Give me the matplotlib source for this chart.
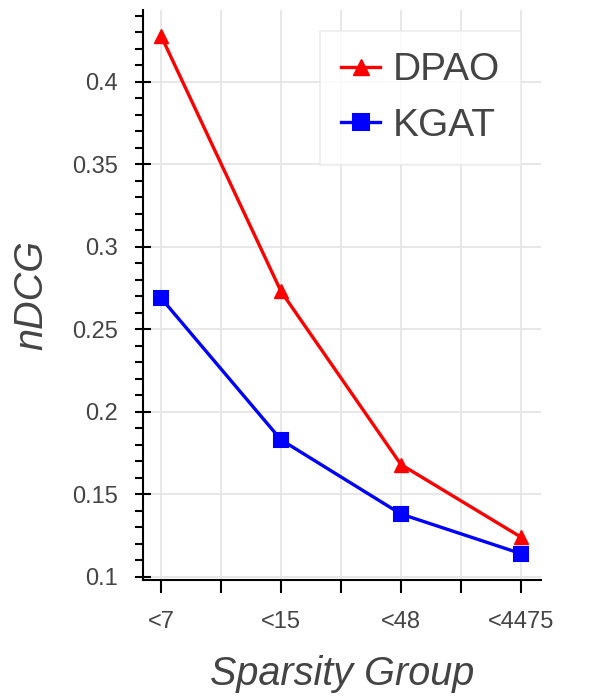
import numpy as np
import matplotlib.pyplot as plt
from matplotlib.ticker import MultipleLocator, FixedLocator

plt.rcParams['font.family'] = ['Liberation Sans', 'DejaVu Sans']

# Data
groups = ["<7", "<15", "<48", "<4475"]
dpao = [0.428, 0.273, 0.168, 0.124]
kgat = [0.269, 0.183, 0.138, 0.114]

x = np.arange(len(groups))
text_color = "#444444"

fig = plt.figure(figsize=(6, 7), dpi=100)
ax = fig.add_axes([143 / 600, 1 - 580 / 700, (541 - 143) / 600, (580 - 10) / 700])

ax.plot(x, dpao, color="red", lw=2.4, marker="^", markersize=9.5, label="DPAO", zorder=3)
ax.plot(x, kgat, color="blue", lw=2.4, marker="s", markersize=9.5, label="KGAT", zorder=3,
        markeredgewidth=1.5, markeredgecolor="blue")

ax.set_xlim(-0.15, 3.167)
ax.set_ylim(0.098, 0.4436)

ax.xaxis.set_major_locator(FixedLocator(x))
ax.xaxis.set_minor_locator(FixedLocator([0.5, 1.5, 2.5]))
ax.set_xticklabels(groups)
ax.yaxis.set_minor_locator(MultipleLocator(0.01))
ax.set_yticks([0.1, 0.15, 0.2, 0.25, 0.3, 0.35, 0.4])
ax.set_yticklabels(["0.1", "0.15", "0.2", "0.25", "0.3", "0.35", "0.4"])

ax.grid(True, which="both", axis="x", color="#e5e5e5", lw=1.3, zorder=0)
ax.grid(True, which="major", axis="y", color="#e5e5e5", lw=1.3, zorder=0)
ax.set_axisbelow(True)

for side in ["top", "right"]:
    ax.spines[side].set_visible(False)
for side in ["left", "bottom"]:
    ax.spines[side].set_linewidth(1.5)

ax.tick_params(axis="y", which="major", direction="inout", length=11, width=1.5,
               labelsize=17, labelcolor=text_color, pad=12.5)
ax.tick_params(axis="y", which="minor", direction="out", length=6, width=1.5)
ax.tick_params(axis="x", which="both", direction="out", length=9, width=1.5)
ax.tick_params(axis="x", which="major", labelsize=17, labelcolor=text_color, pad=13)

ax.set_xlabel("Sparsity Group", fontsize=28.5, style="italic", color=text_color, labelpad=16)
ax.set_ylabel("nDCG", fontsize=28.5, style="italic", color=text_color, labelpad=16)

leg = ax.legend(loc="upper right", bbox_to_anchor=(0.95, 0.963), borderaxespad=0,
                fontsize=28, frameon=True, fancybox=False, borderpad=0.55,
                handlelength=1.0, labelspacing=0.5, handletextpad=0.32, markerscale=1.25)
leg.get_frame().set_edgecolor("#e8e8e8")
leg.get_frame().set_linewidth(1.2)
for t in leg.get_texts():
    t.set_color(text_color)

fig.savefig("out.png", dpi=100)
